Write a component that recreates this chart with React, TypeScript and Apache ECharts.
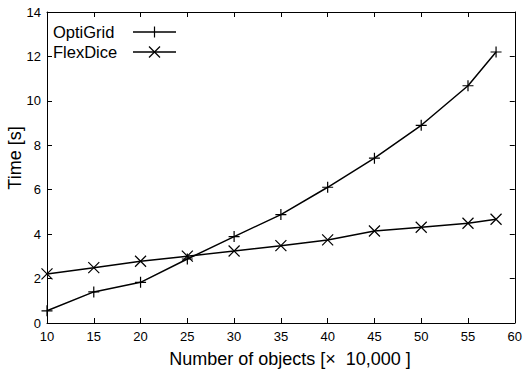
import React, { useEffect, useRef } from "react";
import * as echarts from "echarts";

const xValues = [10, 15, 20, 25, 30, 35, 40, 45, 50, 55, 58];
const optiGrid = [0.55, 1.4, 1.83, 2.88, 3.89, 4.88, 6.11, 7.42, 8.9, 10.68, 12.2];
const flexDice = [2.21, 2.49, 2.78, 3.01, 3.24, 3.48, 3.74, 4.14, 4.31, 4.49, 4.67];
const seriesNames = ["OptiGrid", "FlexDice"];
const xTitle = "Number of objects [\u00d7  10,000 ]";
const yTitle = "Time [s]";

const PLUS = "path://M0,5L10,5M5,0L5,10";
const CROSS = "path://M0,0L10,10M0,10L10,0";
const FONT = "Liberation Sans, Arial, Helvetica, sans-serif";

export default function App() {
  const ref = useRef<HTMLDivElement>(null);
  useEffect(() => {
    if (!ref.current) return;
    const chart = echarts.init(ref.current, undefined, { renderer: "svg" });
    const toPairs = (ys: number[]) => xValues.map((x, i) => [x, ys[i]]);
    const baseX = {
      type: "value" as const,
      min: 10,
      max: 60,
      interval: 5,
      splitLine: { show: false },
      axisLine: { show: true, onZero: false, lineStyle: { color: "#000", width: 1 } },
      axisTick: { show: true, inside: true, length: 5, lineStyle: { color: "#000" } },
    };
    const baseY = {
      type: "value" as const,
      min: 0,
      max: 14,
      interval: 2,
      splitLine: { show: false },
      axisLine: { show: true, onZero: false, lineStyle: { color: "#000", width: 1 } },
      axisTick: { show: true, inside: true, length: 5, lineStyle: { color: "#000" } },
    };
    const lineItem = (name: string, data: number[][], symbol: string) => ({
      name,
      type: "line" as const,
      data,
      symbol,
      symbolSize: 11,
      showSymbol: true,
      lineStyle: { color: "#000", width: 1.5 },
      itemStyle: { color: "#000", borderColor: "#000", borderWidth: 1.2 },
    });
    chart.setOption({
      animation: false,
      backgroundColor: "#fff",
      grid: { left: 47, right: 7, top: 12, bottom: 48 },
      xAxis: [
        {
          ...baseX,
          position: "bottom",
          axisLabel: { color: "#000", fontSize: 13, fontFamily: FONT, margin: 7 },
        },
        { ...baseX, position: "top", axisLabel: { show: false } },
      ],
      yAxis: [
        {
          ...baseY,
          position: "left",
          axisLabel: { color: "#000", fontSize: 13, fontFamily: FONT, margin: 6 },
        },
        { ...baseY, position: "right", axisLabel: { show: false } },
      ],
      series: [
        lineItem(seriesNames[0], toPairs(optiGrid), PLUS),
        lineItem(seriesNames[1], toPairs(flexDice), CROSS),
      ],
      graphic: [
        {
          type: "text",
          x: 290,
          y: 359,
          style: {
            text: xTitle,
            fill: "#000",
            font: `18px ${FONT}`,
            textAlign: "center",
            textVerticalAlign: "middle",
          },
        },
        {
          type: "text",
          x: 15,
          y: 158,
          rotation: Math.PI / 2,
          style: {
            text: yTitle,
            fill: "#000",
            font: `18px ${FONT}`,
            textAlign: "center",
            textVerticalAlign: "middle",
          },
        },
        {
          type: "text",
          left: 53,
          top: 23,
          style: { text: seriesNames[0], fill: "#000", font: `16.5px ${FONT}` },
        },
        {
          type: "text",
          left: 53,
          top: 43,
          style: { text: seriesNames[1], fill: "#000", font: `16.5px ${FONT}` },
        },
        { type: "line", shape: { x1: 133, y1: 32, x2: 176, y2: 32 }, style: { stroke: "#000", lineWidth: 1.5 } },
        { type: "line", shape: { x1: 154.5, y1: 26.5, x2: 154.5, y2: 37.5 }, style: { stroke: "#000", lineWidth: 1.2 } },
        { type: "line", shape: { x1: 133, y1: 52, x2: 176, y2: 52 }, style: { stroke: "#000", lineWidth: 1.5 } },
        { type: "line", shape: { x1: 149, y1: 46.5, x2: 160, y2: 57.5 }, style: { stroke: "#000", lineWidth: 1.2 } },
        { type: "line", shape: { x1: 149, y1: 57.5, x2: 160, y2: 46.5 }, style: { stroke: "#000", lineWidth: 1.2 } },
      ],
    });
    return () => chart.dispose();
  }, []);
  return (
    <div
      ref={ref}
      style={{ position: "fixed", left: 0, top: 0, width: 525, height: 371 }}
    />
  );
}
